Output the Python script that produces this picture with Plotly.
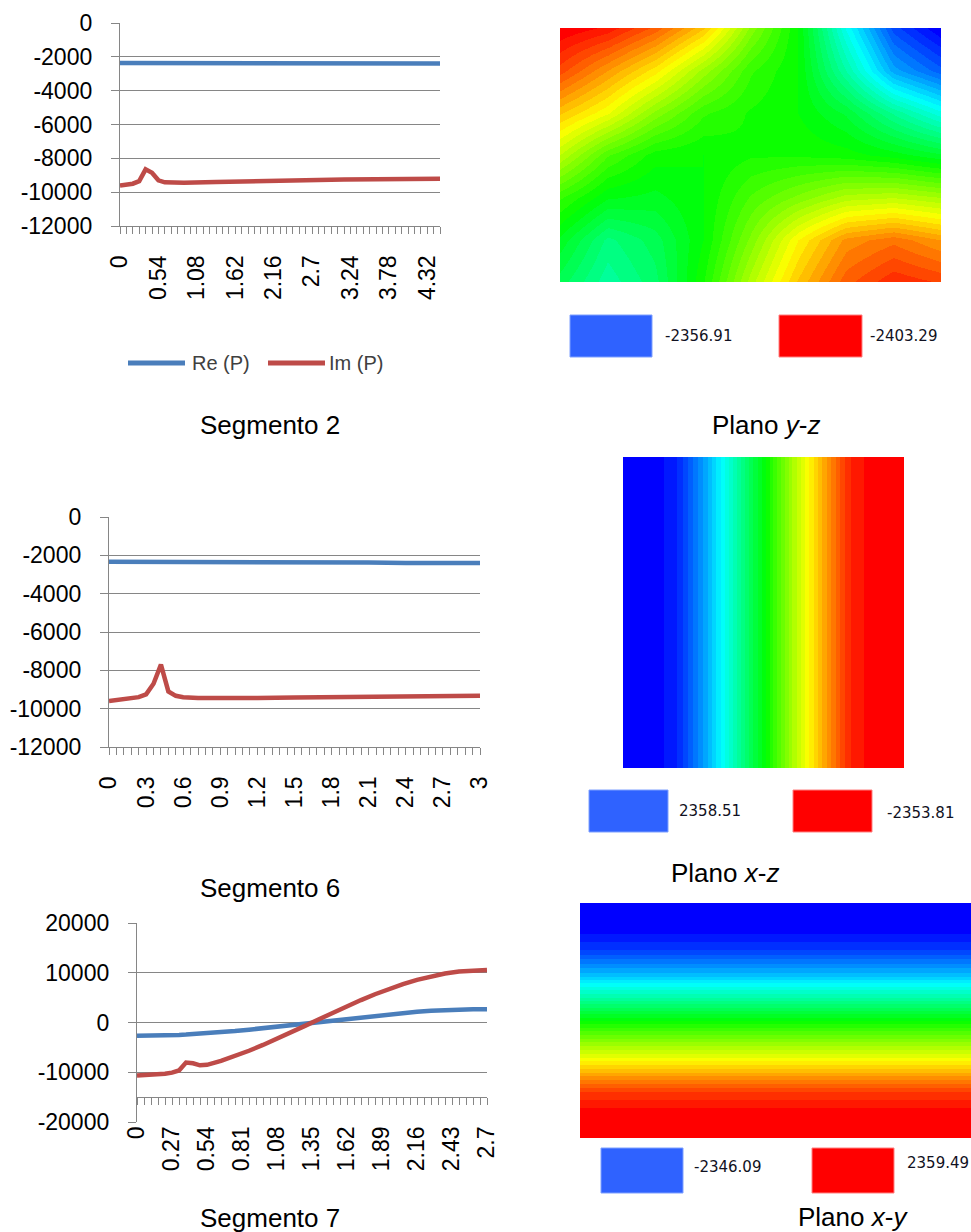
import plotly.graph_objects as go

W, H = 971, 1232

# ---------------- data: Segmento 2 ----------------
seg2_x = [0, 0.09, 0.18, 0.27, 0.36, 0.45, 0.54, 0.63, 0.72, 0.9, 1.35, 1.8, 2.25, 2.7, 3.15, 3.6, 4.05, 4.5]
seg2_re = [-2360, -2360, -2360, -2360, -2360, -2360, -2361, -2361, -2362, -2363, -2366, -2370,
           -2395, -2396, -2397, -2398, -2399, -2400]
seg2_im = [-9600, -9550, -9500, -9350, -8650, -8850, -9300, -9420, -9450, -9450, -9400, -9350,
           -9300, -9270, -9250, -9230, -9220, -9200]
seg2_ticks = [0, 0.54, 1.08, 1.62, 2.16, 2.7, 3.24, 3.78, 4.32]
seg2_ticktext = ["0", "0.54", "1.08", "1.62", "2.16", "2.7", "3.24", "3.78", "4.32"]

# ---------------- data: Segmento 6 ----------------
seg6_x = [0, 0.06, 0.12, 0.18, 0.24, 0.3, 0.36, 0.42, 0.48, 0.54, 0.6, 0.72, 0.9, 1.2, 1.5, 1.8,
          2.1, 2.4, 2.7, 3.0]
seg6_re = [-2340, -2340, -2340, -2340, -2341, -2341, -2342, -2342, -2343, -2343, -2344, -2345,
           -2346, -2350, -2375, -2378, -2380, -2400, -2402, -2404]
seg6_im = [-9600, -9560, -9520, -9480, -9400, -9250, -8700, -7700, -9100, -9330, -9400, -9450,
           -9460, -9440, -9420, -9390, -9360, -9340, -9330, -9320]
seg6_ticks = [0, 0.3, 0.6, 0.9, 1.2, 1.5, 1.8, 2.1, 2.4, 2.7, 3.0]
seg6_ticktext = ["0", "0.3", "0.6", "0.9", "1.2", "1.5", "1.8", "2.1", "2.4", "2.7", "3"]

# ---------------- data: Segmento 7 ----------------
seg7_x = [0, 0.054, 0.108, 0.162, 0.216, 0.27, 0.324, 0.378, 0.432, 0.486, 0.54, 0.648, 0.756,
          0.864, 0.972, 1.08, 1.188, 1.296, 1.404, 1.512, 1.62, 1.728, 1.836, 1.944, 2.052, 2.16,
          2.268, 2.376, 2.484, 2.592, 2.7]
seg7_re = [-2680, -2675, -2660, -2630, -2600, -2550, -2490, -2425, -2345, -2260, -2170, -1950,
           -1710, -1440, -1140, -830, -500, -170, 170, 500, 830, 1140, 1440, 1710, 1950, 2170,
           2345, 2490, 2600, 2660, 2680]
seg7_im = [-10650, -10620, -10580, -10480, -10320, -10080, -9650, -8050, -8200, -8600, -8500,
           -7700, -6750, -5680, -4510, -3280, -1990, -670, 670, 1990, 3280, 4510, 5680, 6750,
           7700, 8580, 9300, 9850, 10250, 10500, 10550]
seg7_ticks = [0, 0.27, 0.54, 0.81, 1.08, 1.35, 1.62, 1.89, 2.16, 2.43, 2.7]
seg7_ticktext = ["0", "0.27", "0.54", "0.81", "1.08", "1.35", "1.62", "1.89", "2.16", "2.43", "2.7"]

y_ticks_neg = [0, -2000, -4000, -6000, -8000, -10000, -12000]
y_text_neg = ["0", "-2000", "-4000", "-6000", "-8000", "-10000", "-12000"]
y_ticks_seg7 = [20000, 10000, 0, -10000, -20000]
y_text_seg7 = ["20000", "10000", "0", "-10000", "-20000"]

# ---------------- data: planes (pressure maps, samples from left/top edge to right/bottom edge) ----
plane_yz = [
    [-2403.3, -2401.9, -2398.7, -2394.0, -2386.1, -2380.1, -2369.4, -2360.6, -2356.9],
    [-2399.6, -2395.9, -2392.2, -2387.1, -2382.4, -2380.1, -2372.7, -2364.8, -2361.5],
    [-2394.0, -2390.8, -2386.1, -2382.4, -2381.0, -2380.1, -2377.8, -2373.6, -2369.9],
    [-2388.5, -2383.4, -2380.6, -2380.1, -2381.0, -2381.0, -2380.6, -2379.6, -2378.2],
    [-2382.4, -2379.2, -2378.7, -2380.1, -2383.4, -2385.7, -2388.0, -2388.5, -2387.5],
    [-2378.7, -2374.5, -2376.4, -2380.1, -2385.7, -2391.7, -2396.3, -2397.7, -2395.9],
    [-2376.4, -2373.1, -2375.5, -2381.0, -2388.0, -2394.0, -2398.7, -2401.0, -2400.0],
]
plane_xz_row = [2358.51, 2358.51, 2122.9, 1510.3, 803.4, 49.5, -751.6, -1458.5, -2118.2,
                -2353.81, -2353.81]
plane_xy_col = [-2346.09, -2346.09, -2016.7, -1462.0, -746.2, 6.7, 712.5, 1371.3, 2030.1,
                2359.49, 2359.49]

yz_limits = [-2356.91, -2403.29]   # blue, red
xz_limits = [2358.51, -2353.81]
xy_limits = [-2346.09, 2359.49]
yz_labels = ["-2356.91", "-2403.29"]
xz_labels = ["2358.51", "-2353.81"]
xy_labels = ["-2346.09", "2359.49"]

series_names = ["Re (P)", "Im (P)"]
captions_left = ["Segmento 2", "Segmento 6", "Segmento 7"]
captions_right = ["Plano <i>y</i>-<i>z</i>", "Plano <i>x</i>-<i>z</i>", "Plano <i>x</i>-<i>y</i>"]

# ---------------- style ----------------
BLUE = "#4A7EBB"
RED = "#BE4B48"
GRID = "#868686"
FONT = "Liberation Sans"
JET_STOPS = [(0.0, (0, 0, 255)), (0.25, (0, 255, 255)), (0.5, (0, 255, 0)),
             (0.75, (255, 255, 0)), (1.0, (255, 0, 0))]
N_BANDS = 44


def jet_rgb(t):
    for (a, ca), (b, cb) in zip(JET_STOPS[:-1], JET_STOPS[1:]):
        if t <= b:
            f = (t - a) / (b - a)
            return "rgb(%d,%d,%d)" % tuple(round(ca[i] + f * (cb[i] - ca[i])) for i in range(3))
    return "rgb(255,0,0)"


def banded(reverse=False):
    scale = []
    for k in range(N_BANDS):
        t = k / (N_BANDS - 1)
        col = jet_rgb(1 - t if reverse else t)
        scale.append([k / N_BANDS, col])
        scale.append([(k + 1) / N_BANDS, col])
    return scale


JET = banded(False)     # blue -> red
JET_R = banded(True)    # red -> blue


def fx(p):
    return p / W


def fy(p):
    return 1 - p / H


fig = go.Figure()

charts = [
    (seg2_x, seg2_re, seg2_im, "x", "y"),
    (seg6_x, seg6_re, seg6_im, "x2", "y2"),
    (seg7_x, seg7_re, seg7_im, "x3", "y3"),
]
for xs, re, im, xa, ya in charts:
    fig.add_trace(go.Scatter(x=xs, y=re, mode="lines", name=series_names[0], xaxis=xa, yaxis=ya,
                             line=dict(color=BLUE, width=4.5), showlegend=False, cliponaxis=False))
    fig.add_trace(go.Scatter(x=xs, y=im, mode="lines", name=series_names[1], xaxis=xa, yaxis=ya,
                             line=dict(color=RED, width=4.5), showlegend=False, cliponaxis=False))

# heatmaps
fig.add_trace(go.Heatmap(z=plane_yz, xaxis="x4", yaxis="y4", colorscale=JET_R,
                         zmin=yz_limits[1], zmax=yz_limits[0], zsmooth="best", showscale=False,
                         hoverinfo="skip"))
fig.add_trace(go.Heatmap(z=[plane_xz_row, plane_xz_row], xaxis="x5", yaxis="y5", colorscale=JET_R,
                         zmin=xz_limits[1], zmax=xz_limits[0], zsmooth="best", showscale=False,
                         hoverinfo="skip"))
fig.add_trace(go.Heatmap(z=[[v, v] for v in plane_xy_col], xaxis="x6", yaxis="y6", colorscale=JET,
                         zmin=xy_limits[0], zmax=xy_limits[1], zsmooth="best", showscale=False,
                         hoverinfo="skip"))


def yaxis_cfg(dom, rng, ticks, text, anchor):
    return dict(domain=[fy(dom[1]), fy(dom[0])], range=rng, tickvals=ticks, ticktext=text,
                anchor=anchor, automargin=False,
                showgrid=True, gridcolor=GRID, gridwidth=1.3, showline=True, linecolor=GRID,
                linewidth=1.3, ticks="outside", ticklen=8, tickcolor=GRID, tickwidth=1.3,
                tickfont=dict(size=23, color="black", family=FONT), zeroline=False,
                ticklabelstandoff=14, fixedrange=True)


def xaxis_cfg(dom, rng, ticks, text, dminor, anchor):
    return dict(domain=[fx(dom[0]), fx(dom[1])], range=rng, tickvals=ticks, ticktext=text,
                tickangle=-90, anchor=anchor, automargin=False, showgrid=False, showline=True,
                linecolor=GRID, linewidth=1.3, ticks="outside", ticklen=7, tickcolor=GRID,
                tickwidth=1.3,
                minor=dict(dtick=dminor, tick0=0, ticks="outside", ticklen=7, tickcolor=GRID,
                           tickwidth=1.3, showgrid=False),
                tickfont=dict(size=23, color="black", family=FONT), zeroline=False,
                ticklabelstandoff=12, fixedrange=True)


# chart pixel boxes
c1 = dict(x=(120, 440), y=(23, 226))
c2 = dict(x=(109, 480), y=(517, 747))
c3 = dict(x=(137, 487), y=(923, 1122))

lay = dict(
    width=W, height=H, autosize=False, margin=dict(l=0, r=0, t=0, b=0, pad=0, autoexpand=False),
    paper_bgcolor="white", plot_bgcolor="white", showlegend=False,
    font=dict(family=FONT, color="black"),
    xaxis=xaxis_cfg(c1["x"], [0, 4.5], seg2_ticks, seg2_ticktext, 0.09, "y"),
    yaxis=yaxis_cfg(c1["y"], [-12000, 0], y_ticks_neg, y_text_neg, "x"),
    xaxis2=xaxis_cfg(c2["x"], [0, 3.0], seg6_ticks, seg6_ticktext, 0.06, "y2"),
    yaxis2=yaxis_cfg(c2["y"], [-12000, 0], y_ticks_neg, y_text_neg, "x2"),
    xaxis3=xaxis_cfg(c3["x"], [0, 2.7], seg7_ticks, seg7_ticktext, 0.054, "free"),
    yaxis3=yaxis_cfg(c3["y"], [-20000, 20000], y_ticks_seg7, y_text_seg7, "x3"),
)
# horizontal axis of Segmento 7 crosses at -15000
y3_lo, y3_hi = fy(c3["y"][1]), fy(c3["y"][0])
lay["xaxis3"]["position"] = y3_lo + (y3_hi - y3_lo) * (5000 / 40000)

hm_boxes = [
    dict(x=(560, 941), y=(28, 282), nx=9, ny=7),
    dict(x=(623, 904), y=(457, 768), nx=11, ny=2),
    dict(x=(580, 971), y=(903, 1138), nx=2, ny=11),
]
for i, b in enumerate(hm_boxes):
    k = i + 4
    lay[f"xaxis{k}"] = dict(domain=[fx(b["x"][0]), fx(b["x"][1])], range=[0, b["nx"] - 1],
                            visible=False, anchor=f"y{k}", fixedrange=True, automargin=False)
    lay[f"yaxis{k}"] = dict(domain=[fy(b["y"][1]), fy(b["y"][0])], range=[b["ny"] - 1, 0],
                            visible=False, anchor=f"x{k}", fixedrange=True, automargin=False)

fig.update_layout(**lay)

# hide the gridline at -20000 (absent in reference)
shapes = [dict(type="line", xref="x3 domain", yref="y3", x0=0.004, x1=1, y0=-20000, y1=-20000,
               line=dict(color="white", width=3), layer="above")]
annotations = []

# series legend under Segmento 2
leg_items = [(series_names[0], BLUE, 128, 185, 190), (series_names[1], RED, 268, 325, 327)]
for name, col, lx0, lx1, tx in leg_items:
    shapes.append(dict(type="line", xref="paper", yref="paper", x0=fx(lx0), x1=fx(lx1),
                       y0=fy(363), y1=fy(363), line=dict(color=col, width=5)))
    annotations.append(dict(text=name, xref="paper", yref="paper", x=fx(tx), y=fy(363),
                            xanchor="left", yanchor="middle", showarrow=False,
                            font=dict(family=FONT, size=20, color="#404040")))

# colour legend boxes under the maps
legend_boxes = [
    (yz_labels, [(570, 315, 652, 357, 663, 336), (779, 315, 862, 357, 868, 336)]),
    (xz_labels, [(589, 790, 668, 832, 677, 811), (793, 790, 872, 832, 885, 813)]),
    (xy_labels, [(601, 1148, 683, 1193, 692, 1167), (812, 1148, 894, 1193, 905, 1163)]),
]
for labels, boxes in legend_boxes:
    for j, (x0, y0, x1, y1, tx, ty) in enumerate(boxes):
        fill = "#2F62FF" if j == 0 else "#FF0000"
        edge = "#7FA0FF" if j == 0 else "#FF8080"
        shapes.append(dict(type="rect", xref="paper", yref="paper", x0=fx(x0), x1=fx(x1),
                           y0=fy(y1), y1=fy(y0), fillcolor=fill, line=dict(color=edge, width=1)))
        annotations.append(dict(text=labels[j], xref="paper", yref="paper", x=fx(tx), y=fy(ty),
                                xanchor="left", yanchor="middle", showarrow=False,
                                font=dict(family="DejaVu Sans", size=15, color="#111122")))

cap_pos_left = [(270, 425), (270, 888), (270, 1218)]
cap_pos_right = [(766, 425), (725, 873), (853, 1217)]
for txt, (cx, cy) in zip(captions_left + captions_right, cap_pos_left + cap_pos_right):
    annotations.append(dict(text=txt, xref="paper", yref="paper", x=fx(cx), y=fy(cy),
                            xanchor="center", yanchor="middle", showarrow=False,
                            font=dict(family=FONT, size=26, color="black")))

fig.update_layout(shapes=shapes, annotations=annotations)

fig.write_html("out.html", config={"displayModeBar": False},
               post_script="document.body.style.margin='0';")
